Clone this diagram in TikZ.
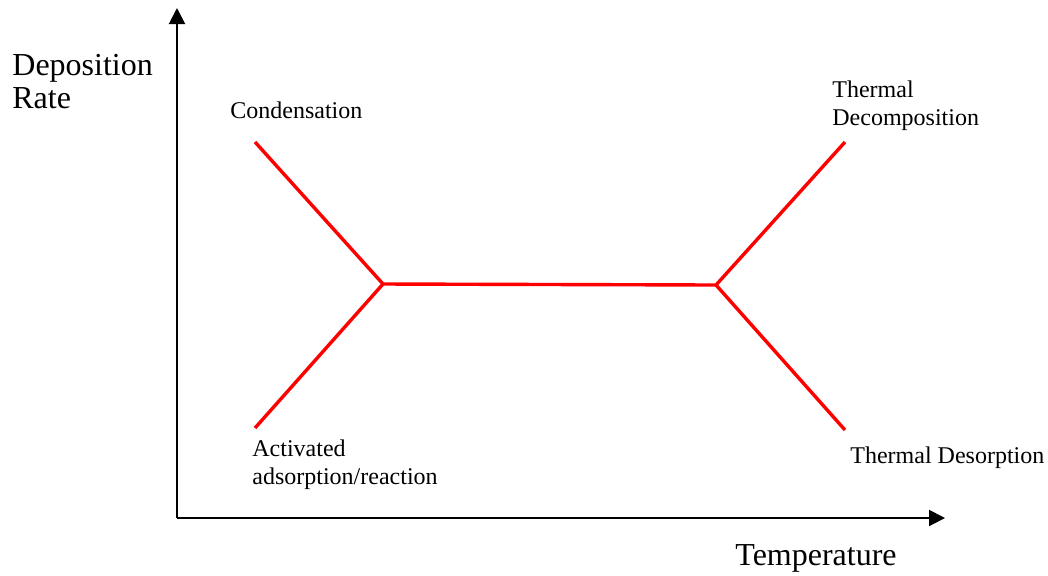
\documentclass[tikz,border=0pt]{standalone}
\usepackage{fontspec}
\setmainfont{Liberation Serif}
\usepackage{tikz}
\usetikzlibrary{arrows.meta}
\definecolor{rateclr}{rgb}{1, 0, 0}
\definecolor{axisclr}{rgb}{0, 0, 0}
\tikzset{ %
  ,>={Triangle[length=8pt,width=8pt]}
  ,axis/.style={draw=axisclr, line width=1pt}
  ,rate/.style={draw=rateclr, line width=1.7pt}
  ,regime/.style={inner sep=0, anchor=base west, align=left, font=\fontsize{12}{14}\selectfont}
  ,axlabel/.style={inner sep=0, anchor=base west, align=left, font=\fontsize{16}{16.5}\selectfont}
}
\begin{document}
\begin{tikzpicture}[x=0.5pt, y=-0.5pt]
      \useasboundingbox (0,0) rectangle (1048,575);
      % axes
      \coordinate (O) at (177,518);
      \coordinate (ytop) at (177,8);
      \coordinate (xend) at (945,518);
      \draw [axis,->] (O) -- (ytop);
      \draw [axis,->] (O) -- (xend);
      \draw
      node[axlabel] (ylab) at (12,108) {Deposition\\Rate}
      node[axlabel] (xlab) at (735,565) {Temperature};
      % regimes
      \coordinate (cond) at (255,142);
      \coordinate (act) at (255,428);
      \coordinate (J1) at (383,284);
      \coordinate (J2) at (716,285);
      \coordinate (dec) at (845,142);
      \coordinate (des) at (845,430);
      \draw [rate, line join=miter] (cond) -- (J1) -- (J2) -- (dec);
      \draw [rate] (act) -- (J1);
      \draw [rate] (J2) -- (des);
      \draw
      node[regime] (lcond) at (230,118) {Condensation}
      node[regime] (lact) at (252,484) {Activated\\adsorption/reaction}
      node[regime] (ldec) at (832,125) {Thermal\\Decomposition}
      node[regime] (ldes) at (850,463) {Thermal Desorption};
    \end{tikzpicture}
\end{document}
